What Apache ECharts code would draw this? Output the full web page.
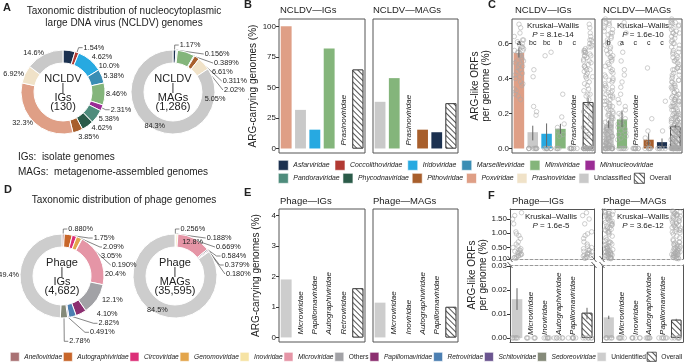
<!DOCTYPE html>
<html>
<head>
<meta charset="utf-8">
<script src="https://cdn.jsdelivr.net/npm/echarts@6/dist/echarts.min.js"></script>
<style>
html, body { margin: 0; background: #fff; }
#chart { width: 685px; height: 364px; }
</style>
</head>
<body>
<div id="chart"></div>
<script>
// ---- data ----
const ncldvFamilies = ['Asfarviridae', 'Coccolithoviridae', 'Iridoviridae', 'Marseilleviridae', 'Mimiviridae', 'Mininucleoviridae',
    'Pandoraviridae', 'Phycodnaviridae', 'Pithoviridae', 'Poxviridae', 'Prasinoviridae', 'Unclassified'];
const ncldvColors = ['#1c3150', '#b23a33', '#27a9e1', '#3a8db4', '#84b57b', '#9b2c95',
    '#4e8c7c', '#2b5b49', '#a85f2c', '#df9f86', '#f0e2c8', '#c9c9c9'];
const ncldvIgShare = [4.62, 1.54, 10.0, 5.38, 8.46, 2.31, 5.38, 4.62, 3.85, 32.3, 6.92, 14.6];
const ncldvMagShare = [1.17, 0, 0.156, 0.389, 6.61, 0, 0, 0.311, 2.02, 0, 5.05, 84.3];

const phageFamilies = ['Anelloviridae', 'Autographiviridae', 'Circoviridae', 'Genomoviridae', 'Inoviridae', 'Microviridae',
    'Others', 'Papillomaviridae', 'Retroviridae', 'Schitoviridae', 'Sedoreoviridae', 'Unidentified'];
const phageColors = ['#a97274', '#c8662a', '#dc2f78', '#e3a54b', '#f6e3a4', '#e595a6',
    '#a2a2a6', '#8c2f70', '#4c7fb2', '#6b5590', '#858a79', '#cdcdcd'];
const phageIgShare = [0.880, 3.05, 1.75, 2.09, 0.190, 20.4, 12.1, 4.10, 2.82, 0.491, 2.78, 49.4];
const phageMagShare = [0, 0.256, 0, 0.188, 0.669, 12.8, 0.584, 0.379, 0.180, 0, 0, 84.5];

// B: ARG-carrying genomes (%)
const bIgCats = ['Poxviridae', 'Unclassified', 'Iridoviridae', 'Mimiviridae', 'Prasinoviridae', 'Overall'];
const bIgValues = [100, 31.6, 15.4, 81.8, 0, 64.6];
const bMagCats = ['Unclassified', 'Mimiviridae', 'Prasinoviridae', 'Pithoviridae', 'Asfarviridae', 'Overall'];
const bMagValues = [38.2, 57.6, 0, 15.4, 13.3, 37.0];

// C: ARG-like ORFs per genome (%)
const cIgMean = [0.545, 0.093, 0.084, 0.112, 0, 0.265];
const cIgErr = [[0.52, 0.577], [0.046, 0.13], [0.007, 0.143], [0.084, 0.141], null, [0.24, 0.288]];
const cIgLetters = ['a', 'bc', 'bc', 'b', 'c'];
const cIgPoints = [
    [0.71, 0.69, 0.66, 0.64, 0.62, 0.62, 0.61, 0.6, 0.59, 0.58, 0.58, 0.57, 0.56, 0.56, 0.55, 0.55, 0.54, 0.53, 0.53, 0.52, 0.51,
        0.5, 0.5, 0.49, 0.48, 0.47, 0.47, 0.46, 0.45, 0.44, 0.43, 0.42, 0.41, 0.4, 0.38, 0.37, 0.36, 0.34, 0.33, 0.31, 0.3, 0.28],
    [0.45, 0.41, 0.24, 0.21, 0.19, 0, 0, 0, 0, 0, 0, 0, 0, 0],
    [0.55, 0.53, 0, 0, 0, 0, 0, 0, 0, 0, 0],
    [0.31, 0.18, 0.14, 0.12, 0.1, 0.08, 0.07, 0, 0, 0, 0],
    [0, 0, 0, 0, 0, 0, 0, 0, 0]
];
const cMagMean = [0.137, 0.166, 0, 0.05, 0.036, 0.126];
const cMagErr = [[0.118, 0.16], [0.122, 0.217], null, [0.017, 0.086], [0.007, 0.057], [0.118, 0.134]];
const cMagLetters = ['b', 'a', 'c', 'c', 'c'];
const cMagPoints = [
    [0.74, 0.72, 0.715, 0.7, 0.69, 0.67, 0.66, 0.66, 0.64, 0.63, 0.61, 0.6, 0.59, 0.57, 0.56, 0.55, 0.53, 0.52, 0.52, 0.5,
        0.49, 0.48, 0.46, 0.45, 0.44, 0.43, 0.41, 0.4, 0.39, 0.38, 0.37, 0.36, 0.35, 0.34, 0.33, 0.32, 0.31, 0.3, 0.3, 0.29,
        0.28, 0.27, 0.26, 0.25, 0.25, 0.24, 0.23, 0.22, 0.21, 0.2, 0.2, 0.19, 0.18, 0.18, 0.17, 0.16, 0.15, 0.15, 0.14, 0.13,
        0.13, 0.12, 0.11, 0.11, 0.1, 0.09, 0.09, 0.08, 0.07, 0.07, 0.06, 0.05, 0.05, 0.04, 0.03, 0.03, 0.02, 0.02, 0.01, 0.01,
        0.73, 0.705, 0.68, 0.65, 0.62, 0.58, 0.54, 0.51, 0.47, 0.42, 0.39, 0.35, 0.32, 0.29, 0.27, 0.24, 0.22, 0.19, 0.17,
        0.16, 0.14, 0.12, 0.1, 0.08, 0.06, 0.04, 0.035, 0.025, 0.015, 0.005,
        0, 0, 0, 0, 0, 0, 0, 0, 0, 0, 0, 0, 0, 0, 0, 0],
    [0.72, 0.7, 0.66, 0.6, 0.55, 0.5, 0.45, 0.42, 0.38, 0.35, 0.31, 0.28, 0.26, 0.24, 0.22, 0.2, 0.19, 0.17, 0.16, 0.15,
        0.14, 0.13, 0.12, 0.11, 0.1, 0.09, 0.08, 0.07, 0.06, 0.05, 0, 0, 0, 0, 0, 0],
    [0, 0, 0, 0, 0, 0, 0, 0],
    [0.46, 0.17, 0.1, 0.06, 0.03, 0, 0, 0, 0, 0, 0],
    [0.27, 0.1, 0, 0, 0, 0, 0]
];

// E: phage ARG-carrying genomes (%)
const eIgCats = ['Unidentified', 'Microviridae', 'Papillomaviridae', 'Autographiviridae', 'Retroviridae', 'Overall'];
const eIgValues = [1.9, 0, 0, 0, 0, 1.61];
const eMagCats = ['Unidentified', 'Microviridae', 'Inoviridae', 'Autographiviridae', 'Papillomaviridae', 'Overall'];
const eMagValues = [1.14, 0, 0, 0, 0, 1.0];

// F: phage ARG-like ORFs per genome (%), broken axis
const fIgCats = ['Unidentified', 'Microviridae', 'Inoviridae', 'Autographiviridae', 'Papillomaviridae', 'Overall'];
const fIgMean = [0.0162, 0, 0, 0, 0, 0.0105];
const fIgErr = [[0.0117, 0.0208], null, null, null, null, [0.0078, 0.0126]];
const fMagCats = ['Unidentified', 'Microviridae', 'Inoviridae', 'Autographiviridae', 'Papillomaviridae', 'Overall'];
const fMagMean = [0.0086, 0, 0, 0, 0, 0.0076];
const fMagErr = [[0.0079, 0.0093], null, null, null, null, [0.0072, 0.008]];
const fIgUnidentPts = [1.72, 1.62, 1.5, 1.33, 1.05, 0.98, 0.92, 0.82, 0.7, 0.62, 0.55, 0.5, 0.46, 0.42, 0.4, 0.37, 0.35,
    0.33, 0.3, 0.28, 0.26, 0.24, 0.22, 0.2, 0.18, 0.16, 0.14, 0.12];
const fMagUnidentPts = [1.78, 1.74, 1.7, 1.66, 1.62, 1.58, 1.55, 1.5, 1.46, 1.42, 1.38, 1.34, 1.3, 1.26, 1.22, 1.18, 1.14,
    1.1, 1.06, 1.02, 0.97, 0.9, 0.84, 0.78, 0.74, 0.7, 0.66, 0.62, 0.58, 0.55, 0.52, 0.49, 0.46, 0.43, 0.4, 0.38, 0.36,
    0.34, 0.32, 0.3, 0.28, 0.26, 0.24, 0.22, 0.2, 0.18, 0.16, 0.14, 0.12, 0.11,
    1.76, 1.72, 1.68, 1.64, 1.6, 1.52, 1.44, 1.36, 1.28, 1.2, 1.12, 1.04, 0.68, 0.6, 0.53, 0.47, 0.41, 0.35, 0.31, 0.27,
    0.23, 0.19, 0.15, 0.13];
const fZeroPts = [0, 0, 0, 0, 0, 0];

// ---- helpers ----
const FONT = 'Liberation Sans, Arial, sans-serif';
const TXT = '#222';
const hatch = {
    symbol: 'rect', symbolSize: 1, dashArrayX: [1, 0], dashArrayY: [1, 3],
    rotation: Math.PI / 4, color: '#555', backgroundColor: '#fff'
};
const colorOf = (name) => {
    let i = ncldvFamilies.indexOf(name);
    if (i >= 0) return ncldvColors[i];
    i = phageFamilies.indexOf(name);
    return i >= 0 ? phageColors[i] : '#ccc';
};

const pieData = (names, shares, colors, insideNames) => names.map((n, i) => {
    const d = { name: n, value: shares[i], itemStyle: { color: colors[i] } };
    if (insideNames.includes(n)) {
        d.label = { position: 'inside' };
        d.labelLine = { show: false };
    } else if (shares[i] >= 3) {
        d.label = { distanceToLabelLine: 0 };
        d.labelLine = { show: false, length: 1, length2: 0 };
    }
    return d;
}).filter(d => d.value > 0);

const pieSeries = (center, data) => ({
    type: 'pie', center, radius: [29, 42], startAngle: 90, clockwise: true, silent: true,
    itemStyle: { borderColor: '#fff', borderWidth: 1 },
    label: {
        show: true, position: 'outside', fontSize: 7.3, color: TXT, fontFamily: FONT, overflow: 'none',
        formatter: p => p.value.toPrecision(3) + '%', distanceToLabelLine: 1
    },
    labelLine: { show: true, length: 5, length2: 4, lineStyle: { color: '#333', width: 0.6 } },
    data
});

const catX = (gi, cats, extra) => Object.assign({
    gridIndex: gi, type: 'category', data: cats, jitter: 11, jitterOverlap: true,
    axisLine: { show: false }, axisTick: { show: false }, axisLabel: { show: false }, splitLine: { show: false }
}, extra || {});

const valY = (gi, min, max, ticks, fmt, showLabels, extra) => Object.assign({
    gridIndex: gi, type: 'value', min, max, splitLine: { show: false },
    axisLine: { show: false },
    axisTick: { show: showLabels, length: 3, customValues: ticks, lineStyle: { color: '#333' } },
    axisLabel: { show: showLabels, customValues: ticks, formatter: fmt, fontSize: 8, color: TXT, margin: 3, fontFamily: FONT }
}, extra || {});

const zeroLabel = {
    show: true, position: 'top', rotate: 90, align: 'left', verticalAlign: 'middle', distance: 3,
    fontSize: 8, fontStyle: 'italic', color: TXT, fontFamily: FONT,
    formatter: p => (p.value === 0 ? p.name : '')
};

const barPair = (gi, cats, values) => [
    {
        type: 'bar', name: 'bars' + gi, xAxisIndex: gi, yAxisIndex: gi, barWidth: '76%', barGap: '-100%', silent: true,
        data: cats.map((c, i) => (c === 'Overall' ? '-' : { value: values[i], itemStyle: { color: colorOf(c) } })),
        label: zeroLabel
    },
    {
        type: 'bar', name: 'Overall', xAxisIndex: gi, yAxisIndex: gi, barWidth: '76%', barGap: '-100%', silent: true,
        data: cats.map((c, i) => (c === 'Overall' ? values[i] : '-')),
        itemStyle: { color: '#fff', borderColor: '#333', borderWidth: 0.8, decal: hatch }
    }
];

const errSeries = (gi, errs) => ({
    type: 'custom', xAxisIndex: gi, yAxisIndex: gi, z: 6, silent: true,
    data: errs.map((e, i) => (e ? [i, e[0], e[1]] : null)).filter(Boolean),
    renderItem: (params, api) => {
        const lo = api.coord([api.value(0), api.value(1)]);
        const hi = api.coord([api.value(0), api.value(2)]);
        return { type: 'line', shape: { x1: lo[0], y1: lo[1], x2: hi[0], y2: hi[1] }, style: { stroke: '#666', lineWidth: 1 } };
    }
});

const dotSeries = (gi, pointLists) => {
    const data = [];
    pointLists.forEach((list, i) => list.forEach(v => data.push([i, v])));
    return {
        type: 'scatter', xAxisIndex: gi, yAxisIndex: gi, z: 4, silent: true, symbolSize: 4.5,
        itemStyle: { color: 'rgba(255,255,255,0)', borderColor: '#a8a8a8', borderWidth: 0.7 },
        data
    };
};

// letters drawn with a custom series so the axis jitter does not move them
const letterSeries = (gi, letters, y) => ({
    type: 'custom', xAxisIndex: gi, yAxisIndex: gi, z: 7, silent: true,
    data: letters.map((l, i) => [i, y]),
    renderItem: (params, api) => {
        const p = api.coord([api.value(0), api.value(1)]);
        return {
            type: 'text', x: p[0], y: p[1],
            style: { text: letters[params.dataIndex], fontSize: 7, fill: TXT, fontFamily: FONT, align: 'center', verticalAlign: 'middle' }
        };
    }
});

// ---- grids ----
const grids = [
    { left: 279, top: 19, width: 86, height: 134 },  // 0 B IGs
    { left: 373, top: 19, width: 85, height: 134 },  // 1 B MAGs
    { left: 512, top: 19, width: 83, height: 134 },  // 2 C IGs
    { left: 602, top: 19, width: 80, height: 134 },  // 3 C MAGs
    { left: 279, top: 209, width: 86, height: 133 }, // 4 E IGs
    { left: 373, top: 209, width: 85, height: 133 }, // 5 E MAGs
    { left: 510, top: 209, width: 84, height: 50 },  // 6 F IGs upper
    { left: 602, top: 209, width: 81, height: 50 },  // 7 F MAGs upper
    { left: 510, top: 265, width: 84, height: 77 },  // 8 F IGs lower
    { left: 602, top: 265, width: 81, height: 77 }   // 9 F MAGs lower
].map((g, i) => Object.assign({ show: i < 6, borderColor: '#555', borderWidth: 1, backgroundColor: 'rgba(0,0,0,0)' }, g));

const solid = { show: true, onZero: false, lineStyle: { color: '#555', width: 1 } };
const dashed = { show: true, onZero: false, lineStyle: { color: '#999', width: 1, type: [3, 2] } };
const fmt0 = v => String(v);
const fmt1 = v => v.toFixed(1);
const fmt2 = v => v.toFixed(2);
const yNameStyle = { fontSize: 10, color: TXT, fontFamily: FONT, lineHeight: 11 };

const xAxes = [
    catX(0, bIgCats), catX(1, bMagCats), catX(2, bIgCats), catX(3, bMagCats),
    catX(4, eIgCats), catX(5, eMagCats),
    catX(6, fIgCats, { axisLine: dashed }), catX(7, fMagCats, { axisLine: dashed }),
    catX(8, fIgCats, { axisLine: solid }), catX(9, fMagCats, { axisLine: solid }),
    // frame edges for the broken axis panels
    catX(6, fIgCats, { position: 'top', axisLine: solid }), catX(7, fMagCats, { position: 'top', axisLine: solid }),
    catX(8, fIgCats, { position: 'top', axisLine: dashed }), catX(9, fMagCats, { position: 'top', axisLine: dashed })
];

const bTicks = [0, 25, 50, 75, 100];
const cTicks = [0, 0.2, 0.4, 0.6];
const eTicks = [0, 1, 2, 3, 4];
const fTopTicks = [0.1, 0.5, 1.0, 1.5];
const fBotTicks = [0, 0.01, 0.02, 0.03];

const yAxes = [
    valY(0, -3.7, 106, bTicks, fmt0, true, { name: 'ARG-carrying genomes (%)', nameLocation: 'middle', nameGap: 17, nameTextStyle: yNameStyle }),
    valY(1, -3.7, 106, bTicks, fmt0, false),
    valY(2, -0.026, 0.74, cTicks, fmt1, true, { name: 'ARG-like ORFs\nper genome (%)', nameLocation: 'middle', nameGap: 20, nameTextStyle: yNameStyle }),
    valY(3, -0.026, 0.74, cTicks, fmt1, false),
    valY(4, -0.15, 4.21, eTicks, fmt0, true, { name: 'ARG-carrying genomes (%)', nameLocation: 'middle', nameGap: 17, nameTextStyle: yNameStyle }),
    valY(5, -0.15, 4.21, eTicks, fmt0, false),
    valY(6, 0.1, 1.85, fTopTicks, fmt2, true, { axisLine: solid }),
    valY(7, 0.1, 1.85, fTopTicks, fmt2, false, { axisLine: solid }),
    valY(8, -0.0017, 0.0305, fBotTicks, fmt2, true, { axisLine: solid }),
    valY(9, -0.0017, 0.0305, fBotTicks, fmt2, false, { axisLine: solid }),
    valY(6, 0, 1, [], fmt0, false, { position: 'right', axisLine: solid }),
    valY(7, 0, 1, [], fmt0, false, { position: 'right', axisLine: solid }),
    valY(8, 0, 1, [], fmt0, false, { position: 'right', axisLine: solid }),
    valY(9, 0, 1, [], fmt0, false, { position: 'right', axisLine: solid })
];

// ---- series ----
const series = [
    pieSeries([63, 92], pieData(ncldvFamilies, ncldvIgShare, ncldvColors, [])),
    pieSeries([173, 92], pieData(ncldvFamilies, ncldvMagShare, ncldvColors, ['Unclassified'])),
    pieSeries([62, 276], pieData(phageFamilies, phageIgShare, phageColors, [])),
    pieSeries([175, 276], pieData(phageFamilies, phageMagShare, phageColors, ['Microviridae', 'Unidentified'])),
    ...barPair(0, bIgCats, bIgValues),
    ...barPair(1, bMagCats, bMagValues),
    ...barPair(2, bIgCats, cIgMean),
    ...barPair(3, bMagCats, cMagMean),
    ...barPair(4, eIgCats, eIgValues),
    ...barPair(5, eMagCats, eMagValues),
    ...barPair(8, fIgCats, fIgMean),
    ...barPair(9, fMagCats, fMagMean),
    dotSeries(2, cIgPoints.concat([cIgPoints.flat()])),
    dotSeries(3, cMagPoints.concat([cMagPoints.flat()])),
    dotSeries(6, [fIgUnidentPts, [], [], [], [], fIgUnidentPts]),
    dotSeries(7, [fMagUnidentPts, [], [], [], [], fMagUnidentPts]),
    dotSeries(8, [fZeroPts, fZeroPts, fZeroPts, fZeroPts, fZeroPts, fZeroPts]),
    dotSeries(9, [fZeroPts, fZeroPts, fZeroPts, fZeroPts, fZeroPts, fZeroPts]),
    errSeries(2, cIgErr), errSeries(3, cMagErr), errSeries(8, fIgErr), errSeries(9, fMagErr),
    letterSeries(2, cIgLetters, 0.6), letterSeries(3, cMagLetters, 0.6)
];

// ---- text ----
const t = (x, y, text, opts) => ({
    type: 'text', x, y, silent: true,
    style: Object.assign({ text, fill: TXT, fontFamily: FONT, fontSize: 10, align: 'left', verticalAlign: 'middle' }, opts || {})
});
const kw = (x, y, p) => t(x, y, 'Kruskal–Wallis\n{i|P} = ' + p, {
    align: 'center', fontSize: 8, lineHeight: 9.5, verticalAlign: 'top', rich: { i: { fontStyle: 'italic', fontSize: 8, fontFamily: FONT } }
});
const centerText = (x, y, text) => t(x, y, text, { align: 'center', fontSize: 11, lineHeight: 9.3 });
const slash = (x, y) => ({ type: 'line', silent: true, shape: { x1: x - 2.5, y1: y - 3, x2: x + 2.5, y2: y + 3 }, style: { stroke: '#333', lineWidth: 0.8 } });

const graphics = [
    t(3, 8, 'A', { fontWeight: 'bold', fontSize: 11 }),
    t(124, 11, 'Taxonomic distribution of nucleocytoplasmic', { align: 'center' }),
    t(124, 23, 'large DNA virus (NCLDV) genomes', { align: 'center' }),
    centerText(63, 93, 'NCLDV\n|\nIGs\n(130)'),
    centerText(173, 93, 'NCLDV\n|\nMAGs\n(1,286)'),
    t(18, 157, 'IGs:  isolate genomes'),
    t(18, 172, 'MAGs:  metagenome-assembled genomes'),
    t(4, 190, 'D', { fontWeight: 'bold', fontSize: 11 }),
    t(124, 200, 'Taxonomic distribution of phage genomes', { align: 'center' }),
    centerText(62, 277, 'Phage\n|\nIGs\n(4,682)'),
    centerText(175, 277, 'Phage\n|\nMAGs\n(35,595)'),
    t(244, 5, 'B', { fontWeight: 'bold', fontSize: 11 }),
    t(280, 10, 'NCLDV—IGs', { fontSize: 9.5 }),
    t(373, 10, 'NCLDV—MAGs', { fontSize: 9.5 }),
    t(488, 5, 'C', { fontWeight: 'bold', fontSize: 11 }),
    t(515, 10, 'NCLDV—IGs', { fontSize: 9.5 }),
    t(603, 10, 'NCLDV—MAGs', { fontSize: 9.5 }),
    kw(553, 21, '8.1e-14'), kw(643, 21, '1.6e-10'),
    t(244, 193, 'E', { fontWeight: 'bold', fontSize: 11 }),
    t(280, 201, 'Phage—IGs', { fontSize: 9.5 }),
    t(373, 201, 'Phage—MAGs', { fontSize: 9.5 }),
    t(488, 196, 'F', { fontWeight: 'bold', fontSize: 11 }),
    t(512, 201, 'Phage—IGs', { fontSize: 9.5 }),
    t(603, 201, 'Phage—MAGs', { fontSize: 9.5 }),
    kw(551, 212, '1.6e-5'), kw(643, 212, '3.6e-12'),
    {
        type: 'text', x: 478, y: 275, rotation: Math.PI / 2, silent: true,
        style: { text: 'ARG-like ORFs\nper genome (%)', fill: TXT, fontFamily: FONT, fontSize: 10, lineHeight: 11, align: 'center', verticalAlign: 'middle' }
    },
    slash(510, 259), slash(510, 265), slash(594, 259), slash(594, 265), slash(602, 259), slash(602, 265)
];

// ---- legends ----
const plain = ['Unclassified', 'Unidentified', 'Others', 'Overall'];
const legendFmt = name => (plain.includes(name) ? '{n|' + name + '}' : '{i|' + name + '}');
const legendBase = (size, extra) => Object.assign({
    orient: 'horizontal', itemWidth: 10, itemHeight: 10, itemGap: 3, icon: 'rect', selectedMode: false,
    padding: 0, width: 760, itemStyle: { borderWidth: 0.6 },
    formatter: legendFmt,
    textStyle: {
        fontSize: size, color: TXT, fontFamily: FONT,
        rich: { i: { fontStyle: 'italic', fontSize: size, fontFamily: FONT }, n: { fontSize: size, fontFamily: FONT } }
    }
}, extra);

const chart = echarts.init(document.getElementById('chart'), null, { renderer: 'canvas' });
chart.setOption({
    animation: false,
    backgroundColor: '#fff',
    textStyle: { fontFamily: FONT },
    grid: grids,
    xAxis: xAxes,
    yAxis: yAxes,
    legend: [
        legendBase(6.9, { left: 278, top: 160, itemGap: 5, data: ncldvFamilies.slice(0, 6) }),
        legendBase(6.9, { left: 278, top: 173, data: ncldvFamilies.slice(6).concat(['Overall']) }),
        legendBase(6.6, { left: 10, top: 352, itemGap: 1, itemWidth: 9, itemHeight: 9, data: phageFamilies.concat(['Overall']) })
    ],
    series,
    graphic: { elements: graphics }
});
</script>
</body>
</html>
